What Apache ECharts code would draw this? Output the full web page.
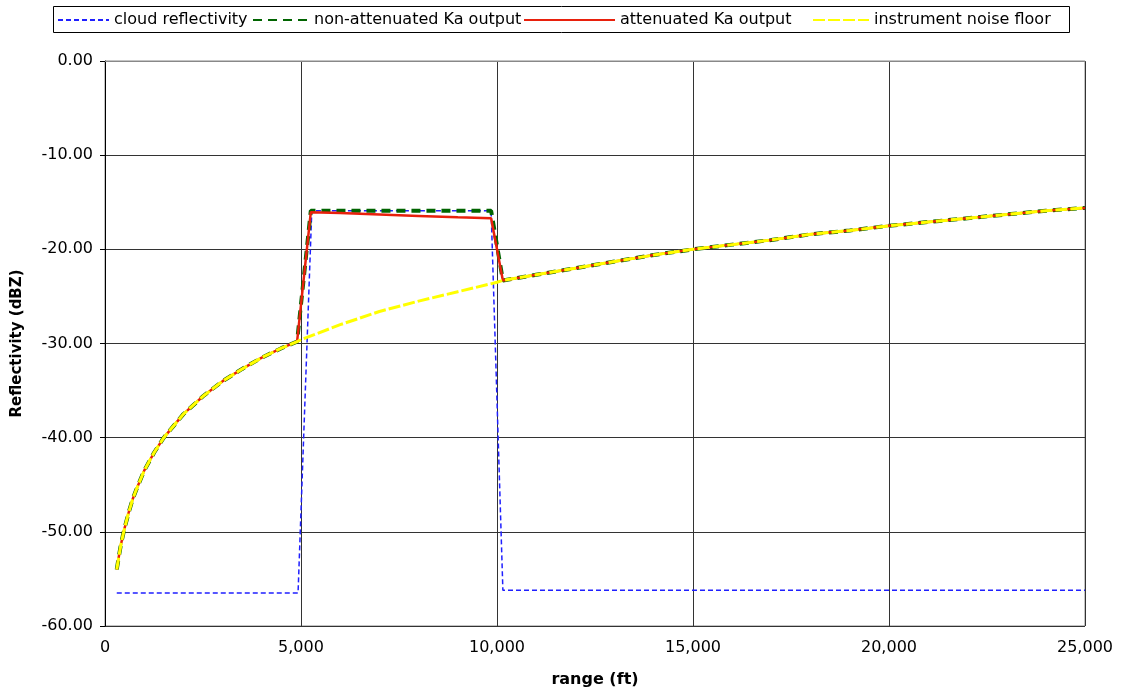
<!DOCTYPE html>
<html>
<head>
<meta charset="utf-8">
<script src="https://cdn.jsdelivr.net/npm/echarts@6/dist/echarts.min.js"></script>
<style>
html,body{margin:0;padding:0;background:#fff;}
#chart{width:1122px;height:694px;}
</style>
</head>
<body>
<div id="chart"></div>
<script>
// ---- data ----
const seriesNames = ['cloud reflectivity', 'non-attenuated Ka output', 'attenuated Ka output', 'instrument noise floor'];

// cloud reflectivity
const cloudX = [300, 4925, 5275, 9850, 10150, 25000];
const cloudY = [-56.5, -56.5, -15.9, -15.9, -56.2, -56.2];

// instrument noise floor
const noiseX = [300, 350, 400, 450, 500, 600, 700, 800, 1000, 1250, 1500, 2000, 2500, 3000, 3500, 4000, 4500, 4900, 5000, 6000, 7000, 8000, 9000, 10000, 10150, 11000, 12000, 13000, 14000, 15000, 16000, 17000, 18000, 19000, 20000, 21000, 22000, 23000, 24000, 25000];
const noiseY = [-54.0, -52.7, -51.5, -50.5, -49.6, -48.0, -46.6, -45.5, -43.5, -41.6, -40.0, -37.5, -35.6, -34.0, -32.7, -31.5, -30.5, -29.8, -29.6, -28.0, -26.6, -25.5, -24.5, -23.5, -23.3, -22.7, -22.0, -21.3, -20.6, -20.0, -19.5, -19.0, -18.4, -18.0, -17.5, -17.1, -16.7, -16.3, -15.9, -15.6];

// non-attenuated Ka output
const nonAttX = [300, 350, 400, 450, 500, 600, 700, 800, 1000, 1250, 1500, 2000, 2500, 3000, 3500, 4000, 4500, 4900, 5250, 9850, 10150, 11000, 12000, 13000, 14000, 15000, 16000, 17000, 18000, 19000, 20000, 21000, 22000, 23000, 24000, 25000];
const nonAttY = [-54.0, -52.7, -51.5, -50.5, -49.6, -48.0, -46.6, -45.5, -43.5, -41.6, -40.0, -37.5, -35.6, -34.0, -32.7, -31.5, -30.5, -29.8, -15.9, -15.9, -23.3, -22.7, -22.0, -21.3, -20.6, -20.0, -19.5, -19.0, -18.4, -18.0, -17.5, -17.1, -16.7, -16.3, -15.9, -15.6];

// attenuated Ka output
const attX = [300, 350, 400, 450, 500, 600, 700, 800, 1000, 1250, 1500, 2000, 2500, 3000, 3500, 4000, 4500, 4900, 5250, 6000, 7000, 8000, 9000, 9850, 10150, 11000, 12000, 13000, 14000, 15000, 16000, 17000, 18000, 19000, 20000, 21000, 22000, 23000, 24000, 25000];
const attY = [-54.0, -52.7, -51.5, -50.5, -49.6, -48.0, -46.6, -45.5, -43.5, -41.6, -40.0, -37.5, -35.6, -34.0, -32.7, -31.5, -30.5, -29.8, -16.05, -16.15, -16.3, -16.45, -16.6, -16.7, -23.3, -22.7, -22.0, -21.3, -20.6, -20.0, -19.5, -19.0, -18.4, -18.0, -17.5, -17.1, -16.7, -16.3, -15.9, -15.6];

const xTicks = [0, 5000, 10000, 15000, 20000, 25000];
const yTicks = [-60, -50, -40, -30, -20, -10, 0];

function pairs(xs, ys) { return xs.map((x, i) => [x, ys[i]]); }

const FONT = 'DejaVu Sans';
const chart = echarts.init(document.getElementById('chart'), null, { renderer: 'canvas' });

// one legend component per entry so each icon length matches the reference
const legendLayout = [
  { left: 57, itemWidth: 51 },
  { left: 252, itemWidth: 56 },
  { left: 523, itemWidth: 91 },
  { left: 812, itemWidth: 56 }
];
const legends = seriesNames.map((n, i) => ({
  left: legendLayout[i].left, top: 12,
  padding: 0,
  itemGap: 0,
  itemWidth: legendLayout[i].itemWidth,
  itemHeight: 14,
  selectedMode: false,
  itemStyle: { opacity: 0 },
  textStyle: { fontFamily: FONT, fontSize: 16, color: '#000' },
  data: [n]
}));

chart.setOption({
  animation: false,
  backgroundColor: '#ffffff',
  textStyle: { fontFamily: FONT },
  graphic: [{
    type: 'rect', left: 53, top: 6, z: -1,
    shape: { width: 1016, height: 26 },
    style: { fill: '#fff', stroke: '#000', lineWidth: 1 }
  }],
  legend: legends,
  grid: {
    left: 105, right: 37, top: 61, bottom: 68,
    show: true, borderColor: '#888', borderWidth: 1
  },
  xAxis: {
    type: 'value',
    min: xTicks[0], max: xTicks[xTicks.length - 1], interval: 5000,
    name: 'range (ft)',
    nameLocation: 'middle', nameGap: 46,
    nameTextStyle: { fontFamily: FONT, fontWeight: 'bold', fontSize: 16, color: '#000' },
    axisLine: { show: true, lineStyle: { color: '#888', width: 1 } },
    axisTick: { show: false },
    axisLabel: {
      margin: 14, fontFamily: FONT, fontSize: 16, color: '#000',
      formatter: v => v.toLocaleString('en-US')
    },
    splitLine: { show: true, lineStyle: { color: '#333', width: 1 } }
  },
  yAxis: {
    type: 'value',
    min: yTicks[0], max: yTicks[yTicks.length - 1], interval: 10,
    name: 'Reflectivity (dBZ)',
    nameLocation: 'middle', nameGap: 80,
    nameTextStyle: { fontFamily: FONT, fontWeight: 'bold', fontSize: 15, color: '#000' },
    axisLine: { show: true, lineStyle: { color: '#000', width: 1 } },
    axisTick: { show: true, inside: false, length: 5, lineStyle: { color: '#000' } },
    axisLabel: {
      margin: 12, fontFamily: FONT, fontSize: 16, color: '#000',
      formatter: v => v.toFixed(2)
    },
    splitLine: { show: true, lineStyle: { color: '#333', width: 1 } }
  },
  series: [
    {
      name: seriesNames[0], type: 'line', data: pairs(cloudX, cloudY),
      symbol: 'none', color: '#1f1fff',
      lineStyle: { color: '#1f1fff', width: 1.5, type: [5, 3] }
    },
    {
      name: seriesNames[1], type: 'line', data: pairs(nonAttX, nonAttY),
      symbol: 'none', color: '#006400',
      lineStyle: { color: '#006400', width: 4, type: [9, 6] }
    },
    {
      name: seriesNames[2], type: 'line', data: pairs(attX, attY),
      symbol: 'none', color: '#e8200c',
      lineStyle: { color: '#e8200c', width: 2.5, type: 'solid' }
    },
    {
      name: seriesNames[3], type: 'line', data: pairs(noiseX, noiseY),
      symbol: 'none', color: '#ffff00',
      lineStyle: { color: '#ffff00', width: 3, type: [12, 3] }
    }
  ]
});
</script>
</body>
</html>
